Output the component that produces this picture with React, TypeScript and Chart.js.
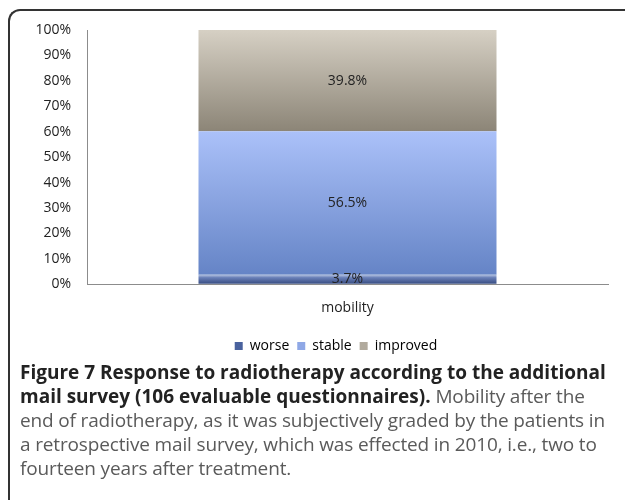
import React, { useEffect, useRef } from "react";
import { Chart, registerables } from "chart.js";

Chart.register(...registerables);

const categories = ["mobility"];
const seriesNames = ["worse", "stable", "improved"];
const worseValues = [0.037];
const stableValues = [0.565];
const improvedValues = [0.398];
const valueLabels = [["3.7%"], ["56.5%"], ["39.8%"]];
const yTicks = [0, 0.1, 0.2, 0.3, 0.4, 0.5, 0.6, 0.7, 0.8, 0.9, 1.0];

const gradStops: [string, string][] = [
  ["#9eb0d8", "#34497e"],
  ["#abc1f9", "#6584c6"],
  ["#d6d0c4", "#8c8577"],
];
const legendColors = ["#4a629e", "#8fa8e6", "#b1aa9d"];

const TICK_FONT = "'Open Sans', 'DejaVu Sans', sans-serif";

function makeGradient(chart: any, dsIndex: number) {
  const ctx = chart.ctx;
  const y = chart.scales?.y;
  if (!y || !chart.chartArea) return gradStops[dsIndex][1];
  const all = [worseValues, stableValues, improvedValues];
  let base = 0;
  for (let i = 0; i < dsIndex; i++) base += all[i][0];
  const top = base + all[dsIndex][0];
  const y0 = y.getPixelForValue(top);
  const y1 = y.getPixelForValue(base);
  const g = ctx.createLinearGradient(0, y0, 0, y1);
  if (dsIndex === 0) {
    g.addColorStop(0, "#b4c2e0");
    g.addColorStop(0.3, "#6a80b8");
    g.addColorStop(1, gradStops[0][1]);
  } else {
    g.addColorStop(0, gradStops[dsIndex][0]);
    g.addColorStop(1, gradStops[dsIndex][1]);
  }
  return g;
}

const labelPlugin = {
  id: "segLabels",
  afterDatasetsDraw(chart: any) {
    const ctx = chart.ctx;
    ctx.save();
    ctx.font = `14px ${TICK_FONT}`;
    ctx.fillStyle = "#222";
    ctx.textAlign = "center";
    ctx.textBaseline = "middle";
    chart.data.datasets.forEach((ds: any, di: number) => {
      const meta = chart.getDatasetMeta(di);
      meta.data.forEach((bar: any, i: number) => {
        const cy = (bar.y + bar.base) / 2;
        ctx.fillText(valueLabels[di][i], bar.x, cy);
      });
    });
    ctx.restore();
  },
};

// Shift the legend box so it is centred the way the reference's legend is.
const legendShift = {
  id: "legendShift",
  afterLayout(chart: any) {
    const lg = chart.legend;
    if (!lg) return;
    lg.left += 32;
    lg.right += 32;
  },
};

export default function App() {
  const ref = useRef<HTMLCanvasElement>(null);
  useEffect(() => {
    if (!ref.current) return;
    const datasets = [worseValues, stableValues, improvedValues].map((vals, di) => ({
      label: seriesNames[di],
      data: vals,
      backgroundColor: (c: any) => makeGradient(c.chart, di),
      borderWidth: 0,
      barPercentage: 0.572,
      categoryPercentage: 1,
    }));
    const chart = new Chart(ref.current, {
      type: "bar",
      data: { labels: categories, datasets },
      plugins: [labelPlugin, legendShift],
      options: {
        animation: false,
        responsive: false,
        layout: { padding: { top: 30, right: 17, left: 0, bottom: 0 } },
        plugins: {
          tooltip: { enabled: false },
          legend: {
            position: "bottom",
            labels: {
              boxWidth: 8,
              boxHeight: 8,
              padding: 8,
              color: "#222",
              font: { family: TICK_FONT, size: 14 },
              generateLabels: () =>
                seriesNames.map((n, i) => ({
                  text: n,
                  fillStyle: legendColors[i],
                  strokeStyle: legendColors[i],
                  lineWidth: 0,
                  datasetIndex: i,
                  hidden: false,
                })),
            },
          },
        },
        scales: {
          x: {
            stacked: true,
            grid: { display: true, drawOnChartArea: false, drawTicks: false },
            border: { display: true, color: "#8c8c8c", width: 1 },
            ticks: { color: "#222", font: { family: TICK_FONT, size: 14 }, padding: 15 },
          },
          y: {
            stacked: true,
            min: 0,
            max: 1,
            afterBuildTicks: (s: any) => {
              s.ticks = yTicks.map((v) => ({ value: v }));
            },
            afterFit: (s: any) => {
              s.width = 87;
            },
            grid: { display: true, drawOnChartArea: false, drawTicks: false },
            border: { display: true, color: "#8c8c8c", width: 1 },
            ticks: {
              color: "#222",
              font: { family: TICK_FONT, size: 14 },
              padding: 16,
              callback: (v: any) => `${Math.round(Number(v) * 100)}%`,
            },
          },
        },
      },
    });
    return () => chart.destroy();
  }, []);

  const captionFont = "'Open Sans', 'Noto Sans', sans-serif";
  return (
    <div style={{ position: "absolute", left: 0, top: 0, width: 625, height: 500, overflow: "hidden", background: "#fff" }}>
      <div
        style={{
          position: "absolute",
          left: 8,
          top: 9,
          width: 800,
          height: 700,
          borderTop: "2px solid #333",
          borderLeft: "2px solid #333",
          borderTopLeftRadius: 12,
        }}
      />
      <canvas ref={ref} width={625} height={363} style={{ position: "absolute", left: 0, top: 0, width: 625, height: 363 }} />
      <div
        style={{
          position: "absolute",
          left: 20,
          top: 360,
          width: 620,
          fontFamily: captionFont,
          fontSize: 19,
          lineHeight: "24px",
          color: "#5a5a5a",
          whiteSpace: "nowrap",
          letterSpacing: -0.15,
        }}
      >
        <div style={{ fontWeight: 700, color: "#222", letterSpacing: 0 }}>Figure 7 Response to radiotherapy according to the additional</div>
        <div>
          <span style={{ fontWeight: 700, color: "#222", letterSpacing: 0 }}>mail survey (106 evaluable questionnaires).</span> Mobility after the
        </div>
        <div>end of radiotherapy, as it was subjectively graded by the patients in</div>
        <div>a retrospective mail survey, which was effected in 2010, i.e., two to</div>
        <div>fourteen years after treatment.</div>
      </div>
    </div>
  );
}
